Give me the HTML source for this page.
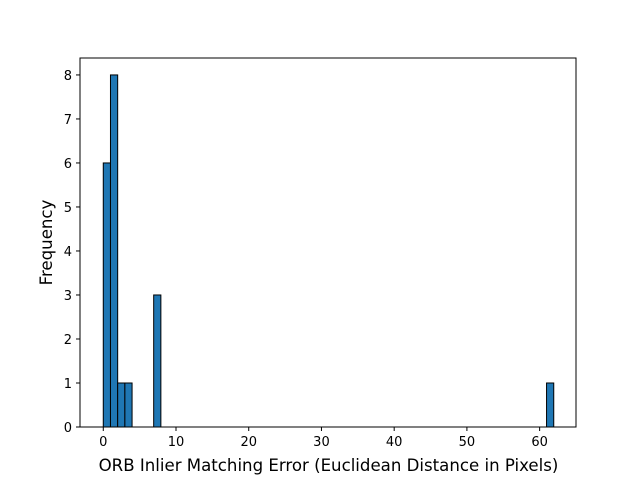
<!DOCTYPE html>
<html><head><style>body{margin:0;background:#fff}svg{font-family:"DejaVu Sans","Liberation Sans",sans-serif}</style></head>
<body>
<svg id="c" width="640" height="480"></svg>
<script>
const binStarts=[0,0.99,1.98,2.97,6.93,60.95];
const binWidth=0.99;
const counts=[6,8,1,1,3,1];
const xTicks=[0,10,20,30,40,50,60];
const yTicks=[0,1,2,3,4,5,6,7,8];
const L=80,R=576,T=58,B=427,x0=-3.2,x1=65.0,y0=0,y1=8.385;
const sx=v=>L+(v-x0)/(x1-x0)*(R-L), sy=v=>B-(v-y0)/(y1-y0)*(B-T);
const svg=document.getElementById('c'),NS='http://www.w3.org/2000/svg';
function mk(t,a,txt){const e=document.createElementNS(NS,t);for(const k in a)e.setAttribute(k,a[k]);if(txt!=null)e.textContent=txt;svg.appendChild(e);return e;}
binStarts.forEach((s,i)=>{const r=mk('rect',{x:sx(s),y:sy(counts[i]),width:sx(s+binWidth)-sx(s),height:sy(0)-sy(counts[i]),fill:'#1f77b4',stroke:'#000','stroke-width':1});

});
const f=mk('rect',{x:L,y:T,width:R-L,height:B-T,fill:'none',stroke:'#000','stroke-width':1});


xTicks.forEach(v=>{const x=sx(v);mk('line',{x1:x,x2:x,y1:B,y2:B+4,stroke:'#000'});
const t=mk('text',{x:x,y:B+19,'text-anchor':'middle','font-size':13},v);

});
yTicks.forEach(v=>{const y=sy(v);mk('line',{x1:L-4,x2:L,y1:y,y2:y,stroke:'#000'});
const t=mk('text',{x:L-8,y:y+5,'text-anchor':'end','font-size':13},v);

});
const xt=mk('text',{x:(L+R)/2+0.5,y:471,'text-anchor':'middle','font-size':16.6},'ORB Inlier Matching Error (Euclidean Distance in Pixels)');


const yt=mk('text',{x:0,y:0,'text-anchor':'middle','font-size':16.6,transform:'translate(52,'+((T+B)/2)+') rotate(-90)'},'Frequency');


</script>
</body></html>
